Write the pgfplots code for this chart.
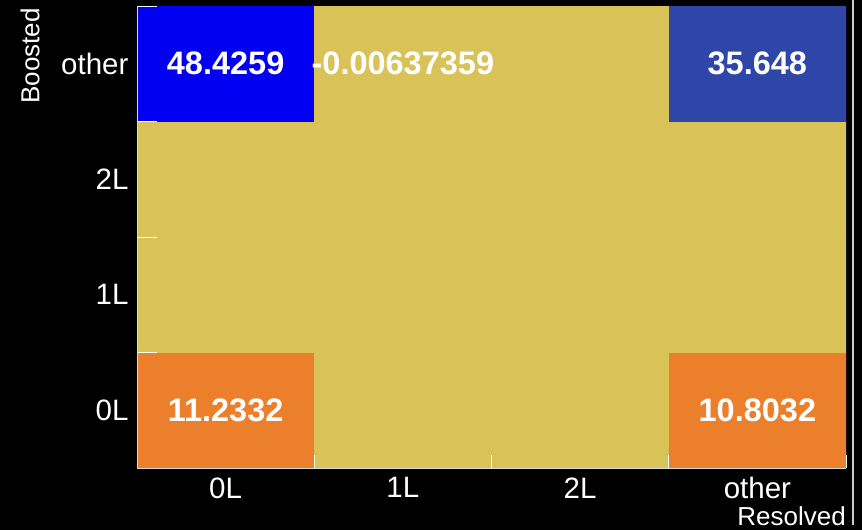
\documentclass[border=0pt]{standalone}
\usepackage{fontspec}
\setmainfont{Liberation Sans}
\usepackage{pgfplots}
\pgfplotsset{compat=1.18}
\definecolor{cyel}{RGB}{217,195,88}
\definecolor{corg}{RGB}{235,127,43}
\definecolor{cdblue}{RGB}{46,70,168}
\definecolor{cblue}{RGB}{2,0,242}
\begin{document}
\begin{tikzpicture}
\path[use as bounding box, fill=black] (0,0) rectangle (862pt,530pt);
\begin{axis}[
  at={(137pt,62pt)}, anchor=south west,
  scale only axis, width=709pt, height=462pt,
  xmin=0, xmax=4, ymin=0, ymax=4,
  axis on top,
  axis x line*=bottom, axis y line*=left,
  axis line style={white!85!black, -, line width=0.8pt},
  tick pos=left, tick align=inside,
  xtick={0.5,1.5,2.5,3.5}, xticklabels={0L,1L,2L,other},
  ytick={0.5,1.5,2.5,3.5}, yticklabels={0L,1L,2L,other},
  major tick length=0pt,
  minor ytick={1,2,3,4}, minor xtick={},
  minor tick length=20pt,
  extra x ticks={1,2,3,4}, extra x tick labels={},
  extra x tick style={major tick length=13pt},
  tick style={white, line width=0.8pt},
  ticklabel style={text=white, font=\fontsize{29.5}{29.5}\selectfont},
  xticklabel style={yshift=-6pt},
  yticklabel style={xshift=-5pt},
  xlabel={Resolved}, ylabel={Boosted},
  every axis x label/.style={at={(axis description cs:1,0)}, anchor=base east, inner sep=0pt, yshift=-57pt, text=white, font=\fontsize{26}{26}\selectfont},
  every axis y label/.style={at={(axis description cs:-0.1509,0.9957)}, anchor=east, rotate=90, inner sep=0pt, text=white, font=\fontsize{26}{26}\selectfont},
  colormap={rootmap}{rgb255(0pt)=(217,195,88); rgb255(50pt)=(217,195,88); rgb255(100pt)=(235,127,43); rgb255(120pt)=(235,127,43); rgb255(300pt)=(46,70,168); rgb255(400pt)=(46,70,168); rgb255(480pt)=(2,0,242); rgb255(490pt)=(2,0,242)},
  point meta min=0, point meta max=49,
  axis background/.style={fill=cyel},
]
\addplot[matrix plot*, mesh/cols=4, point meta=explicit, draw=none] table[meta=v] {
x y v
0.5 0.5 11.2332
1.5 0.5 0
2.5 0.5 0
3.5 0.5 10.8032
0.5 1.5 0
1.5 1.5 0
2.5 1.5 0
3.5 1.5 0
0.5 2.5 0
1.5 2.5 0
2.5 2.5 0
3.5 2.5 0
0.5 3.5 48.4259
1.5 3.5 -0.00637359
2.5 3.5 0
3.5 3.5 35.648
};
\addplot[draw=none, mark=none, nodes near coords, point meta=explicit symbolic,
  every node near coord/.style={anchor=center, text=white, font=\bfseries\fontsize{32.5}{32.5}\selectfont}]
  table[meta=lab] {
x y lab
0.5 0.5 11.2332
3.5 0.5 10.8032
0.5 3.5 48.4259
1.5 3.5 -0.00637359
3.5 3.5 35.648
};
\end{axis}
\draw[white!80!black, line width=1.2pt] (853pt,5pt) -- (853pt,530pt);
\end{tikzpicture}
\end{document}
